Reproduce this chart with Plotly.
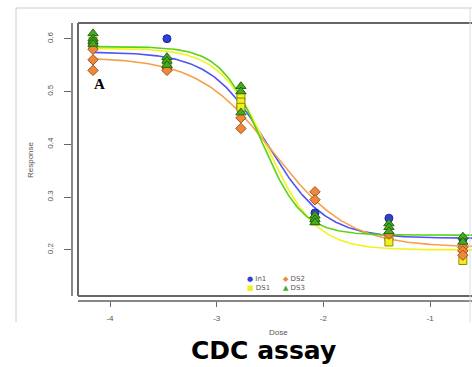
import numpy as np
import plotly.graph_objects as go

# ---- data ----
doses = [-4.159, -3.466, -2.773, -2.079, -1.386, -0.693]
series_names = ["In1", "DS1", "DS2", "DS3"]

in1_vals = [[0.585, 0.59], [0.60], [0.47], [0.27], [0.26], [0.22]]
ds1_vals = [[0.59, 0.595], [0.555], [0.49, 0.48, 0.47], [0.255], [0.225, 0.215], [0.18]]
ds2_vals = [[0.58, 0.56, 0.54], [0.545, 0.54], [0.45, 0.43], [0.31, 0.295], [0.23], [0.205, 0.198, 0.19]]
ds3_vals = [[0.61, 0.60, 0.595, 0.59], [0.565, 0.558, 0.55], [0.51, 0.50, 0.46], [0.265, 0.258, 0.252],
            [0.25, 0.243, 0.235], [0.225, 0.215]]

# fitted 4-parameter logistic curves (top, bottom, ec50 on dose scale, slope)
curve_top = [0.575, 0.582, 0.565, 0.585]
curve_bottom = [0.222, 0.200, 0.205, 0.228]
curve_ec50 = [-2.52, -2.52, -2.47, -2.58]
curve_slope = [3.7, 4.4, 2.85, 5.2]

y_ticks = [0.2, 0.3, 0.4, 0.5, 0.6]
x_ticks = [-4, -3, -2, -1]

# ---- styles ----
pt_fill = ["#2f3fd8", "#f2ef1a", "#f0883a", "#49a81c"]
pt_line = ["#1a2a9a", "#8a8a10", "#a05020", "#1f6a10"]
pt_symbol = ["circle", "square", "diamond", "triangle-up"]
legend_glyph = ["\u25CF", "\u25A0", "\u25C6", "\u25B2"]
crv_color = ["#4f55f0", "#f3f320", "#f6a04a", "#5cd214"]
all_vals = [in1_vals, ds1_vals, ds2_vals, ds3_vals]

W, H = 472, 367
ml, mr, mt, mb = 60, 0, 23, 60
pw, ph = W - ml - mr, H - mt - mb
box_left_px, axis_y_px = 78, 72
box_bottom_px, axis_x_px = 296, 301

x_dom0 = (box_left_px - ml) / pw
y_dom0 = (H - mb - box_bottom_px) / ph

px_per = 106.7
x_lo = -4 + (box_left_px - 110) / px_per
x_hi = -4 + (W - 110) / px_per
py_per = 528.0
y_lo = 0.6 - (box_bottom_px - 38.7) / py_per
y_hi = 0.6 + (38.7 - mt) / py_per

fig = go.Figure()

xs = np.linspace(doses[0], x_hi + 0.05, 300)
for i in range(4):
    ys = curve_bottom[i] + (curve_top[i] - curve_bottom[i]) / (1 + np.exp(curve_slope[i] * (xs - curve_ec50[i])))
    fig.add_trace(go.Scatter(x=xs, y=ys, mode="lines", line=dict(color=crv_color[i], width=1.6),
                             showlegend=False, hoverinfo="skip"))

for i, name in enumerate(series_names):
    px_, py_ = [], []
    for d, vals in zip(doses, all_vals[i]):
        for v in vals:
            px_.append(d)
            py_.append(v)
    fig.add_trace(go.Scatter(x=px_, y=py_, mode="markers", name=name, showlegend=False,
                             marker=dict(symbol=pt_symbol[i], size=8 if i != 3 else 9, color=pt_fill[i],
                                         line=dict(color=pt_line[i], width=1))))

fig.update_layout(
    width=W, height=H,
    margin=dict(l=ml, r=mr, t=mt, b=mb),
    paper_bgcolor="white", plot_bgcolor="white",
    font=dict(family="Liberation Sans, Arial", color="#555"),
    showlegend=False,
    xaxis=dict(domain=[x_dom0, 1], range=[x_lo, x_hi], tickvals=x_ticks, ticktext=[str(t) for t in x_ticks],
               showgrid=False, zeroline=False, showline=True, linecolor="#888", linewidth=2,
               anchor="free", position=(H - mb - axis_x_px) / ph,
               ticks="outside", ticklen=5, tickcolor="#666", tickwidth=1, ticklabelstandoff=4,
               tickfont=dict(size=8, color="#555")),
    yaxis=dict(domain=[y_dom0, 1], range=[y_lo, y_hi], tickvals=y_ticks, ticktext=[str(t) for t in y_ticks],
               showgrid=False, zeroline=False, showline=True, linecolor="#888", linewidth=2,
               anchor="free", position=(axis_y_px - ml) / pw,
               ticks="outside", ticklen=7, tickcolor="#666", tickwidth=1, tickangle=-90,
               ticklabelstandoff=8,
               tickfont=dict(size=8, color="#555")),
)

def px2paper_x(p):
    return (p - ml) / pw
def px2paper_y(p):
    return (H - mb - p) / ph

shapes = []
shapes.append(dict(type="line", xref="paper", yref="paper", x0=px2paper_x(78), x1=1.0,
                   y0=px2paper_y(23), y1=px2paper_y(23), line=dict(color="#666", width=2)))
shapes.append(dict(type="line", xref="paper", yref="paper", x0=px2paper_x(78), x1=px2paper_x(78),
                   y0=px2paper_y(23), y1=px2paper_y(296), line=dict(color="#666", width=2)))
shapes.append(dict(type="line", xref="paper", yref="paper", x0=px2paper_x(78), x1=1.0,
                   y0=px2paper_y(296), y1=px2paper_y(296), line=dict(color="#666", width=2)))
shapes.append(dict(type="line", xref="paper", yref="paper", x0=px2paper_x(16), x1=px2paper_x(16),
                   y0=px2paper_y(8), y1=px2paper_y(322), line=dict(color="#ccc", width=1)))
shapes.append(dict(type="line", xref="paper", yref="paper", x0=px2paper_x(16), x1=1.0,
                   y0=px2paper_y(8), y1=px2paper_y(8), line=dict(color="#ccc", width=1)))
shapes.append(dict(type="line", xref="paper", yref="paper", x0=px2paper_x(470), x1=px2paper_x(470),
                   y0=px2paper_y(8), y1=px2paper_y(322), line=dict(color="#ddd", width=1)))
fig.update_layout(shapes=shapes)

def ann(text, x, y, size, color="#555", family=None, angle=0, xanchor="center"):
    f = dict(size=size, color=color)
    if family:
        f["family"] = family
    fig.add_annotation(text=text, xref="paper", yref="paper", x=px2paper_x(x), y=px2paper_y(y),
                       showarrow=False, textangle=angle, font=f, xanchor=xanchor, yanchor="middle")

ann("Response", 30, 160, 8, angle=-90)
ann("Dose", 278, 332, 8)
ann("<b>A</b>", 99, 84, 15, color="black", family="Liberation Serif, DejaVu Serif")
ann("<b>CDC assay</b>", 263, 350, 25, color="black", family="DejaVu Sans")

# legend (2 x 2) built from text glyphs
legend_pos = {"In1": (245, 279), "DS2": (281, 279), "DS1": (245, 288), "DS3": (281, 288)}
for i, name in enumerate(series_names):
    lx, ly = legend_pos[name]
    txt = f"<span style='color:{pt_fill[i]}'>{legend_glyph[i]}</span> {name}"
    ann(txt, lx, ly, 7, family="DejaVu Sans", xanchor="left")

fig.write_html("out.html")
